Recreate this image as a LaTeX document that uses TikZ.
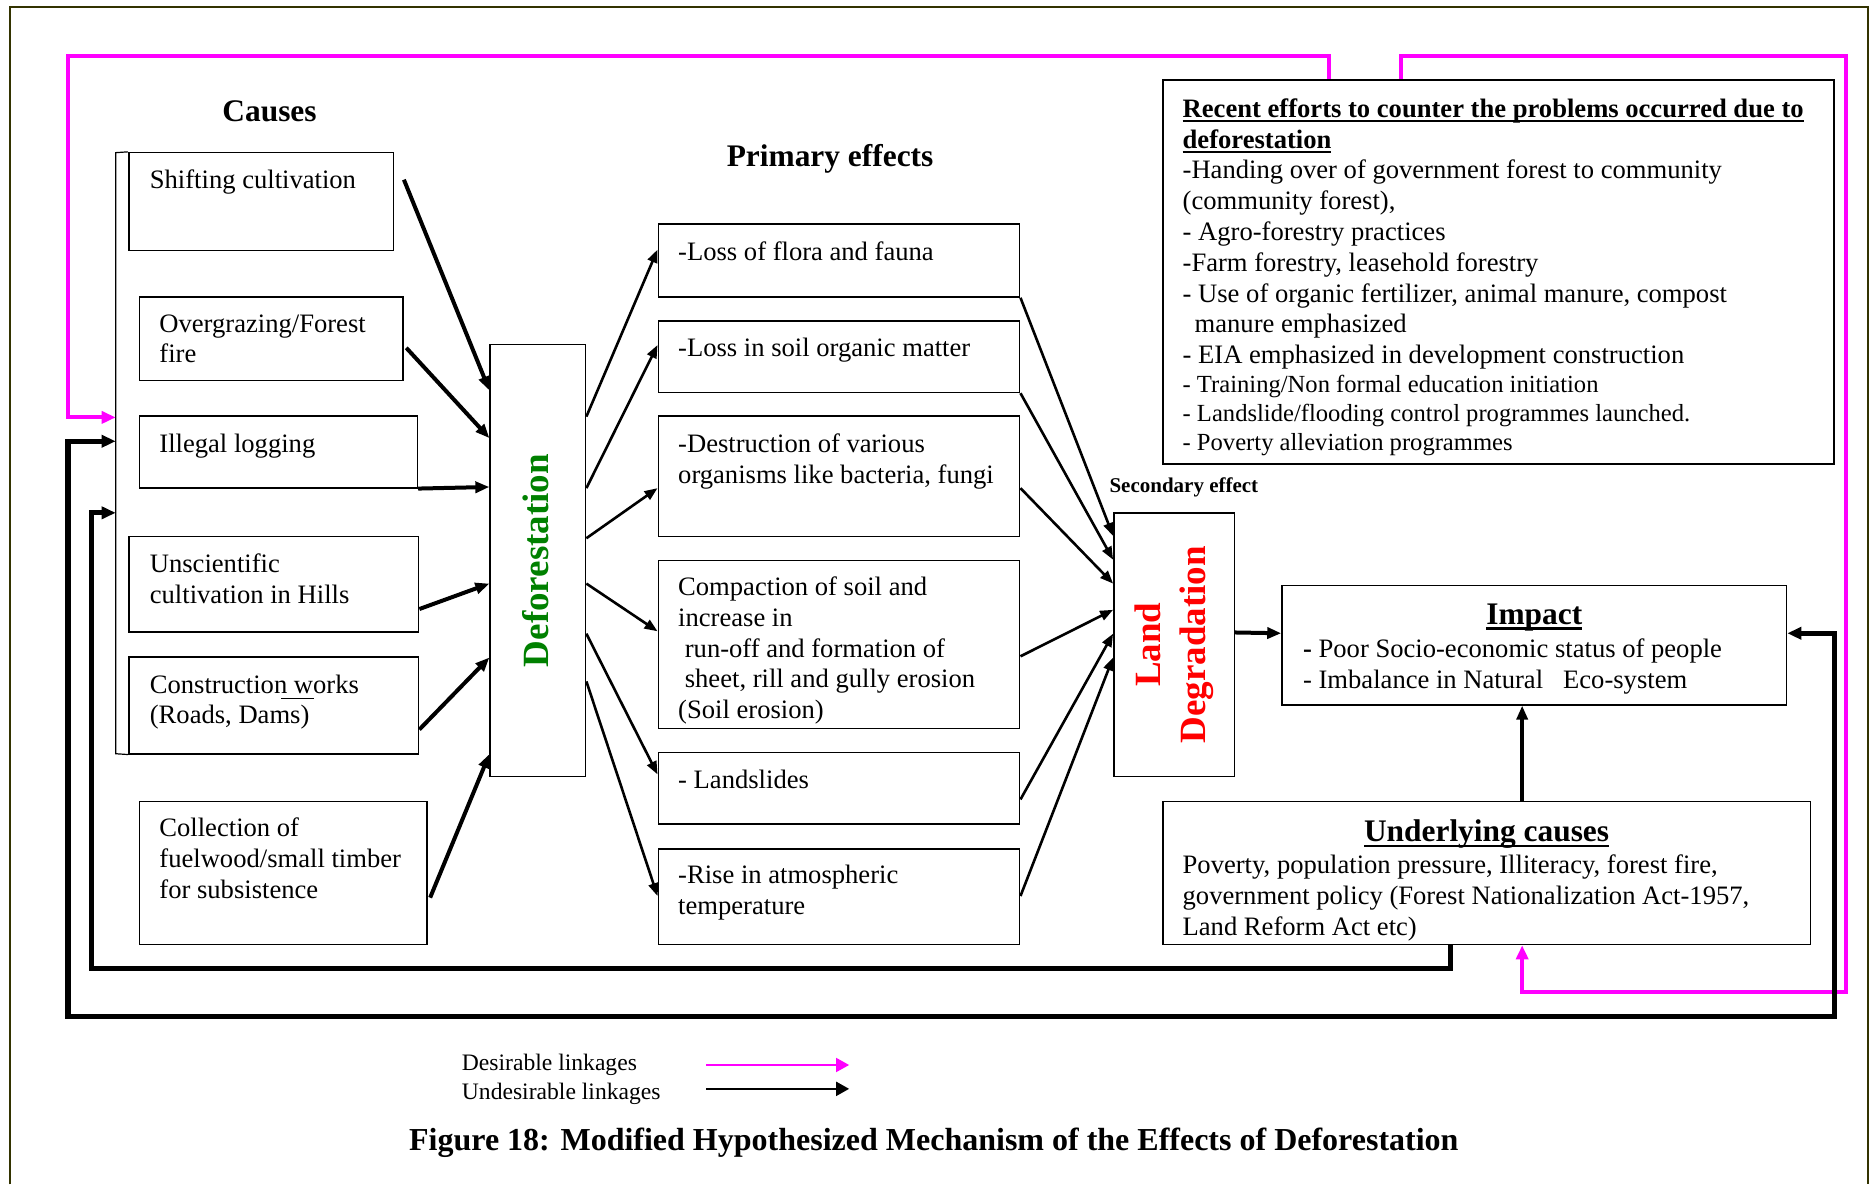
\documentclass[tikz,border=0pt]{standalone}
\usepackage{fontspec}
\setmainfont{Liberation Serif}
\usetikzlibrary{arrows.meta,fit}
\definecolor{mymagenta}{RGB}{255,0,255}
\definecolor{mygreen}{RGB}{0,128,0}
\definecolor{myolive}{RGB}{51,51,0}
\newcommand{\thickul}[1]{\leavevmode\setbox0\hbox{#1}\rlap{\copy0}\raisebox{-2.4pt}{\rule{\wd0}{1.1pt}}}

\begin{document}
\begin{tikzpicture}[x=0.5963pt,y=-0.5963pt]
\tikzset{box/.style={draw,line width=0.8pt,inner sep=0pt}}
\tikzset{txt/.style={font=\fontsize{13.3}{15.4}\selectfont,align=left,inner sep=0pt,anchor=north west}}
\tikzset{head/.style={font=\fontsize{15.7}{18}\selectfont\bfseries,inner sep=0pt}}
\tikzset{cause/.style={line width=2pt,-{Triangle[length=7pt,width=5.5pt]}}}
\tikzset{effect/.style={line width=1.3pt,-{Triangle[length=6.5pt,width=5pt]}}}
\tikzset{desir/.style={mymagenta,line width=2pt,-{Triangle[length=7pt,width=6pt]}}}
\tikzset{undesir/.style={black,line width=2.6pt,-{Triangle[length=7pt,width=6pt]}}}
\useasboundingbox (0,0) rectangle (1568,993);
% frame
\draw[myolive,line width=1pt] (8,993) -- (8,6) -- (1566,6) -- (1566,993);

% causes
\node[head] (causesH) at (226,93) {Causes};
\node[box,fit={(108,128)(330,210)}] (shift) {};
\node[box,fit={(117,249)(338,319)}] (graze) {};
\node[box,fit={(117,349)(350,409)}] (logging) {};
\node[box,fit={(108,450)(351,530)}] (hills) {};
\node[box,fit={(108,551)(351,632)}] (constr) {};
\node[box,fit={(117,672)(358,792)}] (fuel) {};
\node[txt] (shiftT) at ([shift={(18,15)}]shift.north west) {Shifting cultivation};
\node[txt] (grazeT) at ([shift={(17,15)}]graze.north west) {Overgrazing/Forest\\fire};
\node[txt] (loggingT) at ([shift={(17,15)}]logging.north west) {Illegal logging};
\node[txt] (hillsT) at ([shift={(18,15)}]hills.north west) {Unscientific\\cultivation in Hills};
\node[txt] (constrT) at ([shift={(18,15)}]constr.north west) {Construction works\\(Roads, Dams)};
\node[txt] (fuelT) at ([shift={(17,14)}]fuel.north west) {Collection of\\fuelwood/small timber\\for subsistence};
\draw[line width=0.6pt] (236,586) -- (263,586);
% bracket round the causes
\coordinate (brtop) at (97,128);
\coordinate (brbot) at (97,632);
\draw[line width=0.6pt] (shift.north west) -- (brtop) -- (brbot) -- (constr.south west);

% deforestation
\node[box,fit={(411,289)(491,651)}] (defo) {};
\node[rotate=90,font=\fontsize{18.5}{22}\selectfont\bfseries,text=mygreen,inner sep=0pt] (defoT) at (449,470) {Deforestation};

\draw[cause] ([shift={(8,-60)}]shift.south east) -- ([shift={(0,39)}]defo.north west);
\draw[cause] ([shift={(2,-28)}]graze.south east) -- ([shift={(0,79)}]defo.north west);
\draw[cause] (logging.south east) -- ([shift={(0,120)}]defo.north west);
\draw[cause] ([shift={(0,-20)}]hills.south east) -- ([shift={(0,201)}]defo.north west);
\draw[cause] ([shift={(0,-21)}]constr.south east) -- ([shift={(0,263)}]defo.north west);
\draw[cause] ([shift={(2,-40)}]fuel.south east) -- ([shift={(0,344)}]defo.north west);

% primary effects
\node[head] (primH) at (696,133) {Primary effects};
\node[box,fit={(552,188)(855,249)}] (flora) {};
\node[box,fit={(552,269)(855,329)}] (organic) {};
\node[box,fit={(552,349)(855,450)}] (organism) {};
\node[box,fit={(552,470)(855,611)}] (erosion) {};
\node[box,fit={(552,631)(855,691)}] (slides) {};
\node[box,fit={(552,712)(855,792)}] (temp) {};
\node[txt] (floraT) at ([shift={(17,15)}]flora.north west) {-Loss of flora and fauna};
\node[txt] (organicT) at ([shift={(17,15)}]organic.north west) {-Loss in soil organic matter};
\node[txt] (organismT) at ([shift={(17,15)}]organism.north west) {-Destruction of various\\organisms like bacteria, fungi};
\begin{scope}
\clip (552,470) rectangle (855,611);
\node[txt] (erosionT) at ([shift={(17,14)}]erosion.north west) {Compaction of soil and\\increase in\\\hspace*{0.25em}run-off and formation of\\\hspace*{0.25em}sheet, rill and gully erosion\\(Soil erosion)};
\end{scope}
\node[txt] (slidesT) at ([shift={(17,15)}]slides.north west) {- Landslides};
\node[txt] (tempT) at ([shift={(17,14)}]temp.north west) {-Rise in atmospheric\\temperature};

\draw[effect] ([shift={(0,61)}]defo.north east) -- ([shift={(0,22)}]flora.north west);
\draw[effect] ([shift={(0,121)}]defo.north east) -- ([shift={(0,21)}]organic.north west);
\draw[effect] ([shift={(0,163)}]defo.north east) -- ([shift={(0,61)}]organism.north west);
\draw[effect] ([shift={(0,201)}]defo.north east) -- ([shift={(0,60)}]erosion.north west);
\draw[effect] ([shift={(0,243)}]defo.north east) -- ([shift={(0,19)}]slides.north west);
\draw[effect] ([shift={(0,283)}]defo.north east) -- ([shift={(0,40)}]temp.north west);

% secondary effect
\node[box,fit={(934,430)(1035,651)}] (land) {};
\node[rotate=90,align=center,font=\fontsize{18.5}{22.7}\selectfont\bfseries,text=red,inner sep=0pt] (landT) at (land.center) {Land\\Degradation};
\node[font=\fontsize{10.5}{12}\selectfont\bfseries,anchor=west,inner sep=0pt] (secT) at (930,409) {Secondary effect};

\draw[effect] (flora.south east) -- ([shift={(0,20)}]land.north west);
\draw[effect] (organic.south east) -- ([shift={(0,40)}]land.north west);
\draw[effect] ([shift={(0,61)}]organism.north east) -- ([shift={(0,60)}]land.north west);
\draw[effect] ([shift={(0,81)}]erosion.north east) -- ([shift={(0,82)}]land.north west);
\draw[effect] ([shift={(0,40)}]slides.north east) -- ([shift={(0,102)}]land.north west);
\draw[effect] ([shift={(0,40)}]temp.north east) -- ([shift={(0,122)}]land.north west);

% recent efforts
\node[box,fit={(975,67)(1538,389)}] (efforts) {};
\node[txt] (effortsT) at ([shift={(17,16)}]efforts.north west)
  {\textbf{\thickul{Recent efforts to counter the problems occurred due to}}\\
   \textbf{\thickul{deforestation}}\\
   -Handing over of government forest to community\\
   (community forest),\\
   - Agro-forestry practices\\
   -Farm forestry, leasehold forestry\\
   - Use of organic fertilizer, animal manure, compost\\
   \hspace*{0.45em}manure emphasized\\
   - EIA emphasized in development construction\\[-0.8pt]
   {\fontsize{12.3}{14.8}\selectfont - Training/Non formal education initiation}\\[-1pt]
   {\fontsize{12.3}{14.8}\selectfont - Landslide/flooding control programmes launched.}\\[-1pt]
   {\fontsize{12.3}{14.8}\selectfont - Poverty alleviation programmes}};

% impact
\node[box,fit={(1075,491)(1498,591)}] (impact) {};
\node[head,anchor=north] (impactH) at ([shift={(0,16)}]impact.north) {\thickul{Impact}};
\node[txt] (impactT) at ([shift={(18,45)}]impact.north west)
  {\textbf{-} Poor Socio-economic status of people\\- Imbalance in Natural\ \ \ Eco-system};
\draw[cause] ([shift={(0,101)}]land.north east) -- ([shift={(0,-10)}]impact.west);

% underlying causes
\node[box,fit={(975,672)(1518,792)}] (under) {};
\node[head,anchor=north] (underH) at ([shift={(0,16)}]under.north) {\thickul{Underlying causes}};
\node[txt] (underT) at ([shift={(17,45)}]under.north west)
  {Poverty, population pressure, Illiteracy, forest fire,\\government policy (Forest Nationalization Act-1957,\\Land Reform Act etc)};
\draw[cause] ([shift={(302,0)}]under.north west) -- ([shift={(202,0)}]impact.south west);

% linkages
\coordinate (inDes) at (97,350);
\coordinate (inUnd) at (97,370);
\coordinate (inUnder) at (97,430);
\draw[desir] ([shift={(140,0)}]efforts.north west) |- (57,47) |- (inDes);
\draw[desir] ([shift={(200,0)}]efforts.north west) |- (1548,47) -- (1548,832) -| ([shift={(302,0)}]under.south west);
\draw[undesir,{Triangle[length=7pt,width=6pt]}-{Triangle[length=7pt,width=6pt]}]
  ([shift={(0,-10)}]impact.east) -- (1538,531) |- (57,852) |- (inUnd);
\draw[undesir] ([shift={(242,0)}]under.south west) |- (77,812) |- (inUnder);

% legend
\node[font=\fontsize{11.8}{14}\selectfont,anchor=west,inner sep=0pt] (legD) at (387,893) {Desirable linkages};
\node[font=\fontsize{11.8}{14}\selectfont,anchor=west,inner sep=0pt] (legU) at (387,917) {Undesirable linkages};
\coordinate (legDa) at (592,893);
\coordinate (legDb) at (712,893);
\coordinate (legUa) at (592,913);
\coordinate (legUb) at (712,913);
\draw[mymagenta,line width=0.8pt,-{Triangle[length=6.5pt,width=7pt]}] (legDa) -- (legDb);
\draw[line width=1pt,-{Triangle[length=6.5pt,width=7pt]}] (legUa) -- (legUb);

% caption
\node[font=\fontsize{16}{18}\selectfont\bfseries,inner sep=0pt] (caption) at (783,958)
  {Figure 18: Modified Hypothesized Mechanism of the Effects of Deforestation};
\end{tikzpicture}
\end{document}
